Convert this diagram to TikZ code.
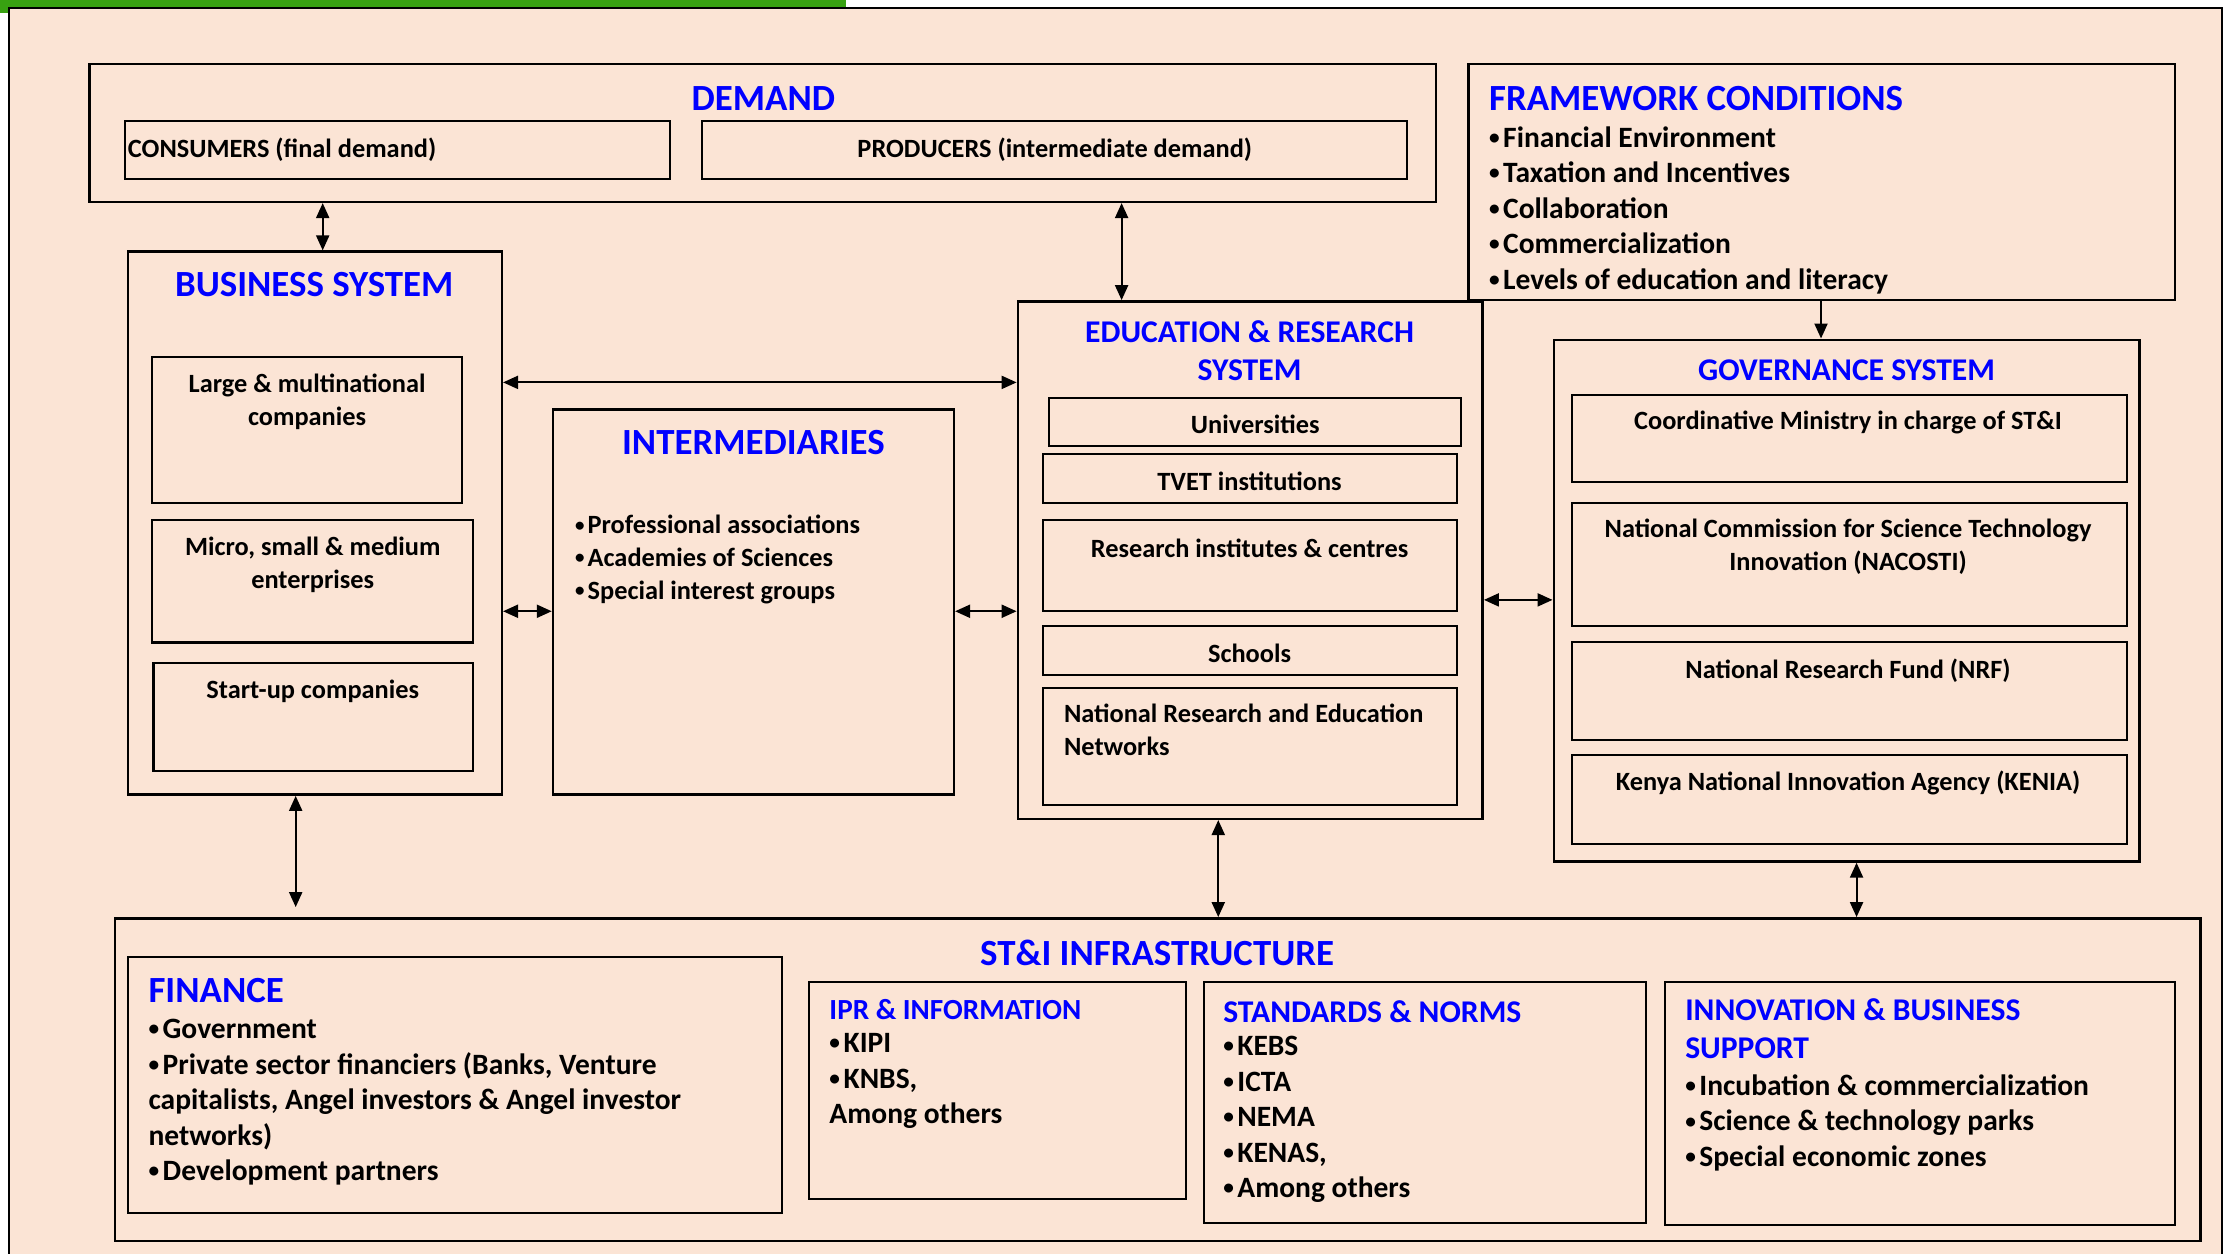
\documentclass[tikz,border=0pt]{standalone}
\usepackage{fontspec}
\setmainfont{Carlito}
\usetikzlibrary{arrows.meta, positioning, fit, calc}
\definecolor{peach}{RGB}{251,228,213}
\definecolor{titleblue}{RGB}{0,0,255}
\definecolor{topbar}{RGB}{56,161,17}
\newcommand{\listdot}{\raisebox{0.2ex}{\scalebox{0.72}{•}}\kern0.12em}
\tikzstyle{panel} = [rectangle, draw=black, line width=0.7pt, fill=peach, inner sep=0pt]
\tikzstyle{cell} = [rectangle, draw=black, line width=0.6pt, fill=peach, inner sep=0pt]
\tikzstyle{bigtitle} = [text=titleblue, font=\fontsize{10.5}{13}\selectfont\bfseries, inner sep=0pt]
\tikzstyle{midtitle} = [text=titleblue, font=\fontsize{9}{10.7}\selectfont\bfseries, inner sep=0pt, align=center]
\tikzstyle{smalltitle} = [text=titleblue, font=\fontsize{8.3}{10}\selectfont\bfseries, inner sep=0pt]
\tikzstyle{entry} = [font=\fontsize{7.5}{9.3}\selectfont\bfseries, inner sep=0pt, align=center]
\tikzstyle{bullets} = [font=\fontsize{8.4}{10.1}\selectfont\bfseries, inner sep=0pt, align=left, anchor=north west]
\tikzstyle{tightbullets} = [bullets, font=\fontsize{7.5}{9.3}\selectfont\bfseries]
\tikzstyle{arrow} = [line width=0.6pt, {Triangle[length=1.5mm,width=1.3mm]}-{Triangle[length=1.5mm,width=1.3mm]}]
\tikzstyle{oneway} = [line width=0.6pt, -{Triangle[length=1.5mm,width=1.3mm]}]

\begin{document}
\begin{tikzpicture}[x=0.14216mm, y=-0.14216mm]
\useasboundingbox (0,0) rectangle (1568,882);

% Page frame
\fill [topbar] (0,0) rectangle (595,9);
\draw [fill=peach, line width=0.7pt] (6.5,5.5) rectangle (1563,900);

% Demand
\node (demand) [panel, fit={(63,45) (1010,142)}] {};
\node (demandtitle) [bigtitle] at (537,69) {DEMAND};
\node (consumers) [cell, fit={(88,85) (471,126)}] {};
\node (consumerstext) [entry, anchor=west] at (89.5,105) {CONSUMERS (final demand)};
\node (producers) [cell, fit={(494,85) (990,126)}] {};
\node (producerstext) [entry] at (742,105) {PRODUCERS (intermediate demand)};

% Framework conditions
\node (framework) [panel, fit={(1033,45) (1530,211)}] {};
\node (frameworktitle) [bigtitle, anchor=west] at (1047,69) {FRAMEWORK CONDITIONS};
\node (frameworklist) [bullets] at (1047,88.5) {\listdot Financial Environment\\\listdot Taxation and Incentives\\\listdot Collaboration\\\listdot Commercialization\\\listdot Levels of education and literacy};

% Business system
\node (business) [panel, fit={(90,177) (353,559)}] {};
\node (businesstitle) [bigtitle] at (221,200) {BUSINESS SYSTEM};
\node (large) [cell, fit={(107,251) (325,354)}] {};
\node (largetext) [entry] at (216,282.5) {Large \& multinational\\companies};
\node (msme) [cell, fit={(107,366) (333,452)}] {};
\node (msmetext) [entry] at (220,397.5) {Micro, small \& medium\\enterprises};
\node (startup) [cell, fit={(108,466.5) (333,542.5)}] {};
\node (startuptext) [entry] at (220,486) {Start-up companies};

% Intermediaries
\node (inter) [panel, fit={(389,288) (671,559)}] {};
\node (intertitle) [bigtitle] at (530,311) {INTERMEDIARIES};
\node (interlist) [tightbullets] at (404,362) {\listdot Professional associations\\\listdot Academies of Sciences\\\listdot Special interest groups};

% Education & research system
\node (ers) [panel, fit={(716,212) (1043,576)}] {};
\node (erstitle) [midtitle] at (879,246.5) {EDUCATION \& RESEARCH\\SYSTEM};
\node (univ) [cell, fit={(738,280) (1028,314)}] {};
\node (univtext) [entry] at (883,298.5) {Universities};
\node (tvet) [cell, fit={(734,319.5) (1025,354)}] {};
\node (tvettext) [entry] at (879,338.5) {TVET institutions};
\node (research) [cell, fit={(734,366) (1025,430)}] {};
\node (researchtext) [entry] at (879,385.5) {Research institutes \& centres};
\node (schools) [cell, fit={(734,440.5) (1025,475)}] {};
\node (schoolstext) [entry] at (879,459.5) {Schools};
\node (nren) [cell, fit={(734,484) (1025,566)}] {};
\node (nrentext) [entry, align=left, anchor=north west] at (748,495) {National Research and Education\\Networks};

% Governance system
\node (gov) [panel, fit={(1093,239) (1505,606)}] {};
\node (govtitle) [midtitle] at (1299,260.5) {GOVERNANCE SYSTEM};
\node (ministry) [cell, fit={(1106,278) (1496,339)}] {};
\node (ministrytext) [entry] at (1300,297.5) {Coordinative Ministry in charge of ST\&I};
\node (nacosti) [cell, fit={(1106,354) (1496,440.5)}] {};
\node (nacostitext) [entry] at (1300,384.5) {National Commission for Science Technology\\Innovation (NACOSTI)};
\node (nrf) [cell, fit={(1106,451.5) (1496,520.5)}] {};
\node (nrftext) [entry] at (1300,472) {National Research Fund (NRF)};
\node (kenia) [cell, fit={(1106,531) (1496,594)}] {};
\node (keniatext) [entry] at (1300,550.5) {Kenya National Innovation Agency (KENIA)};

% ST&I infrastructure
\node (infra) [panel, fit={(81,646) (1548,873)}] {};
\node (infratitle) [bigtitle] at (814,670) {ST\&I INFRASTRUCTURE};
\node (finance) [cell, fit={(90,673.5) (550,853)}] {};
\node (financetitle) [bigtitle, anchor=west] at (104,697) {FINANCE};
\node (financelist) [bullets] at (104,716.5) {\listdot Government\\\listdot Private sector financiers (Banks, Venture\\capitalists, Angel investors \& Angel investor\\networks)\\\listdot Development partners};
\node (ipr) [cell, fit={(569,690.5) (834,843.5)}] {};
\node (iprtitle) [smalltitle, anchor=west] at (583,710) {IPR \& INFORMATION};
\node (iprlist) [bullets] at (583,726.5) {\listdot KIPI\\\listdot KNBS,\\Among others};
\node (standards) [cell, fit={(847,690.5) (1158,860.5)}] {};
\node (standardstitle) [midtitle, anchor=west] at (860,712) {STANDARDS \& NORMS};
\node (standardslist) [bullets] at (860,728.5) {\listdot KEBS\\\listdot ICTA\\\listdot NEMA\\\listdot KENAS,\\\listdot Among others};
\node (support) [cell, fit={(1171.5,690.5) (1530,862)}] {};
\node (supporttitle) [midtitle, align=left, anchor=north west] at (1185,702) {INNOVATION \& BUSINESS\\SUPPORT};
\node (supportlist) [bullets] at (1185,755.5) {\listdot Incubation \& commercialization\\\listdot Science \& technology parks\\\listdot Special economic zones};

% Arrows
\coordinate (busdemand) at (227,0);
\coordinate (ersdemand) at (789,0);
\coordinate (busers) at (0,269);
\coordinate (businter) at (0,430);
\coordinate (ersgov) at (0,422);
\coordinate (frameworkgov) at (1281,0);
\coordinate (businfra) at (208,0);
\coordinate (ersinfra) at (857,0);
\coordinate (govinfra) at (1306,0);

\draw [arrow] (demand.south -| busdemand) -- (business.north -| busdemand);
\draw [arrow] (demand.south -| ersdemand) -- (ers.north -| ersdemand);
\draw [arrow] (business.east |- busers) -- (ers.west |- busers);
\draw [arrow] (business.east |- businter) -- (inter.west |- businter);
\draw [arrow] (inter.east |- businter) -- (ers.west |- businter);
\draw [arrow] (ers.east |- ersgov) -- (gov.west |- ersgov);
\draw [oneway] (framework.south -| frameworkgov) -- (gov.north -| frameworkgov);
\draw [arrow, shorten >=1mm] (business.south -| businfra) -- (infra.north -| businfra);
\draw [arrow] (ers.south -| ersinfra) -- (infra.north -| ersinfra);
\draw [arrow] (gov.south -| govinfra) -- (infra.north -| govinfra);

\end{tikzpicture}
\end{document}
